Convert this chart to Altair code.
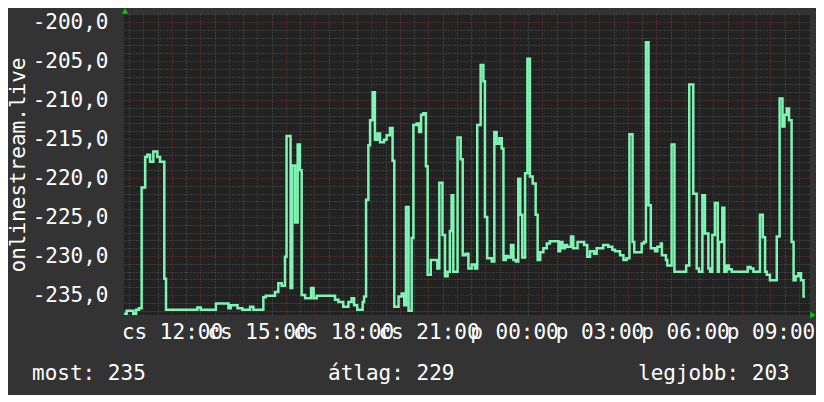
import altair as alt
import numpy as np
import pandas as pd

# ---- data (hours since midnight of day 1, value) ----
hours = [10.32, 10.35, 10.41, 10.64, 10.74, 10.84, 10.935, 11.06, 11.13, 11.23, 11.345,
         11.485, 11.58, 11.73, 11.79, 12.89, 13.01, 13.54, 13.98, 14.06, 14.30,
         14.47, 14.74, 14.855, 15.205, 15.29, 15.615, 15.73, 15.85, 15.965, 16.02,
         16.16, 16.22, 16.32, 16.41, 16.49, 16.55, 16.67, 16.88, 16.97, 17.08,
         17.72, 17.84, 18.01, 18.19, 18.30,
         18.39, 18.50, 18.69, 18.74, 18.81, 18.89, 18.95, 19.04, 19.12, 19.21,
         19.30, 19.44, 19.53, 19.65, 19.74, 19.80, 19.95, 20.06, 20.15, 20.21,
         20.30, 20.41, 20.47, 20.585, 20.67, 20.74, 20.82, 20.91, 20.97, 21.08,
         21.31, 21.38, 21.49, 21.58, 21.67, 21.75, 21.81, 21.87, 22.02, 22.13,
         22.20, 22.30, 22.40,
         22.515, 22.63, 22.71, 22.83, 22.925, 22.98, 23.06, 23.22, 23.31, 23.39,
         23.485, 23.57, 23.63, 23.71, 23.80, 23.895, 23.98, 24.07, 24.15, 24.22,
         24.29, 24.39, 24.47, 24.56, 24.655, 24.76, 24.83, 24.92, 25.03, 25.15,
         25.26, 25.56, 25.615, 25.70, 25.79, 25.86, 26.00, 26.08, 26.23,
         26.46, 26.57, 26.67, 26.81, 26.90, 27.13, 27.31, 27.45, 27.54, 27.72,
         27.84, 27.95, 28.05, 28.16, 28.22, 28.48, 28.56, 28.63, 28.72, 28.80,
         28.95, 29.03, 29.15, 29.19, 29.33, 29.38, 29.53, 29.63, 30.04, 30.15,
         30.29, 30.41,
         30.49, 30.61, 30.70, 30.82, 30.88, 30.96, 31.05, 31.15, 31.19, 31.31,
         31.38, 31.46, 31.54, 31.64, 32.20, 32.30, 32.40, 32.63, 32.73, 32.81,
         32.87, 32.98, 33.22, 33.32, 33.42, 33.49, 33.57, 33.65, 33.74, 33.81,
         33.88, 33.98, 34.07, 34.16, 34.21]

values = [-237.4, -237.4, -237.0, -237.4, -236.9, -236.7, -221.2, -217.3, -217.0, -217.9, -216.6,
          -217.3, -217.9, -232.9, -236.9, -236.6, -236.9, -236.1, -236.7, -236.3, -236.7,
          -236.9, -236.5, -236.9, -235.3, -235.1, -234.6, -233.5, -233.8, -230.1, -214.6,
          -234.1, -218.4, -225.7, -215.7, -219.0, -235.0, -235.4, -234.1, -235.4, -235.1,
          -235.6, -235.9, -236.5, -235.9, -235.4,
          -236.3, -236.9, -235.9, -235.2, -222.8, -215.8, -212.6, -209.0, -215.1, -214.3,
          -215.4, -215.1, -214.5, -213.6, -217.8, -236.5, -235.2, -234.8, -236.3, -223.7,
          -237.0, -227.7, -213.2, -213.0, -214.1, -211.9, -211.7, -218.5, -232.4, -230.5,
          -231.6, -220.6, -227.3, -232.6, -232.0, -226.8, -222.2, -232.0, -214.8, -217.6,
          -229.9, -229.7, -231.6,
          -231.1, -231.6, -213.2, -205.5, -207.6, -225.0, -230.3, -230.7, -214.1, -215.6,
          -214.9, -216.2, -230.5, -230.0, -230.2, -228.6, -230.5, -230.7, -220.1, -224.7,
          -230.2, -219.4, -204.7, -219.8, -220.7, -224.7, -230.5, -229.5, -229.0, -228.4,
          -228.1, -229.4, -228.2, -229.0, -228.6, -228.8, -227.5, -229.0, -228.2,
          -228.6, -230.1, -229.4, -229.7, -229.0, -228.6, -228.8, -229.2, -229.4, -229.9,
          -230.5, -230.3, -214.4, -228.2, -229.5, -228.4, -228.2, -202.6, -223.5, -229.0,
          -229.4, -228.8, -228.4, -229.9, -230.5, -231.2, -215.7, -232.0, -231.2, -208.0,
          -222.0, -231.6,
          -232.0, -222.2, -227.1, -231.6, -232.0, -227.3, -223.2, -232.0, -228.2, -223.8,
          -232.0, -231.2, -231.7, -232.0, -231.4, -231.6, -232.0, -224.7, -227.6, -232.0,
          -232.4, -233.1, -227.5, -209.8, -213.4, -211.9, -211.1, -212.6, -228.2, -233.1,
          -232.6, -232.2, -233.1, -235.2, -235.2]

y_label_values = [-235, -230, -225, -220, -215, -210, -205, -200]
x_label_hours = [12, 15, 18, 21, 24, 27, 30, 33]
day_names = ["cs", "p"]
legend_labels = ["most: 235", "átlag: 229", "legjobb: 203"]
y_title = "onlinestream.live"

df = pd.DataFrame({"h": hours, "v": values})

X_DOMAIN = [10.316, 34.386]
Y_DOMAIN = [-237.56, -198.97]
FONT = "DejaVu Sans Mono"
FS = 21
MINOR = "#595959"
MAJOR = "#7a3232"
LINE = "#80f4b4"

xs = alt.Scale(domain=X_DOMAIN, nice=False, zero=False)
ys = alt.Scale(domain=Y_DOMAIN, nice=False, zero=False)

minor_x = [float(h) for h in np.arange(10.5, 34.5, 1.0)]
major_x = [float(h) for h in range(11, 35)]
minor_y = [float(v) for v in range(-237, -198) if v % 5 != 0]
major_y = [float(v) for v in range(-235, -199, 5)]


def grid_layer(xvals, yvals, color):
    return alt.Chart(df).mark_line(strokeOpacity=0).encode(
        x=alt.X("h:Q", scale=xs, axis=alt.Axis(
            values=xvals, grid=True, gridColor=color, gridDash=[1, 2], gridWidth=1,
            labels=False, ticks=False, domain=False, title=None, orient="bottom")),
        y=alt.Y("v:Q", scale=ys, axis=alt.Axis(
            values=yvals, grid=True, gridColor=color, gridDash=[1, 2], gridWidth=1,
            labels=False, ticks=False, domain=False, title=None, orient="left")),
    )


x_label_expr = (
    f"(datum.value < 24 ? '{day_names[0]}' : '{day_names[1]}') + ' ' + "
    "(datum.value % 24 < 10 ? '0' : '') + (datum.value % 24) + ':00'"
)
y_label_expr = "'-' + replace(format(abs(datum.value), '.1f'), '.', ',')"

label_layer = alt.Chart(df).mark_line(strokeOpacity=0).encode(
    x=alt.X("h:Q", scale=xs, axis=alt.Axis(
        values=x_label_hours, labelExpr=x_label_expr, grid=False, ticks=False, domain=False,
        labelFont=FONT, labelFontSize=FS, labelColor="#ffffff", labelPadding=6,
        labelOverlap=False, labelFlush=False, title=None, orient="bottom")),
    y=alt.Y("v:Q", scale=ys, axis=alt.Axis(
        values=y_label_values, labelExpr=y_label_expr, grid=False, ticks=False, domain=False,
        labelFont=FONT, labelFontSize=FS, labelColor="#ffffff", labelPadding=16,
        labelOverlap=False, labelFlush=False,
        title=y_title, titleFont=FONT, titleFontSize=FS, titleFontWeight="normal",
        titleColor="#ffffff", titlePadding=4, orient="left")),
)

data_line = alt.Chart(df).mark_line(
    color=LINE, strokeWidth=2.5, interpolate="step-after"
).encode(
    x=alt.X("h:Q", scale=xs, axis=None),
    y=alt.Y("v:Q", scale=ys, axis=None),
)

legend_x = [-92, 204, 514]
legend_layers = []
for lbl, px in zip(legend_labels, legend_x):
    legend_layers.append(
        alt.Chart(pd.DataFrame({"t": [lbl]})).mark_text(
            font=FONT, fontSize=FS, color="#ffffff", align="left", baseline="alphabetic"
        ).encode(x=alt.value(px), y=alt.value(366), text="t:N")
    )

arrow_up = alt.Chart(pd.DataFrame({"a": [0]})).mark_point(
    shape="triangle-up", filled=True, color="#00cc00", size=40, opacity=1
).encode(x=alt.value(1), y=alt.value(-3))
arrow_right = alt.Chart(pd.DataFrame({"a": [0]})).mark_point(
    shape="triangle-right", filled=True, color="#00cc00", size=40, opacity=1
).encode(x=alt.value(689), y=alt.value(301))

chart = alt.layer(
    grid_layer(minor_x, minor_y, MINOR),
    grid_layer(major_x, major_y, MAJOR),
    label_layer,
    data_line,
    *legend_layers,
    arrow_up,
    arrow_right,
).resolve_axis(
    x="independent", y="independent"
).properties(
    width=686,
    height=301,
    background="#333333",
    padding={"left": 116, "top": 6, "right": 6, "bottom": 80},
    autosize=alt.AutoSizeParams(type="none"),
).configure_view(
    fill="#222222", strokeWidth=0
)

chart.save("out.html", embed_options={"renderer": "svg", "actions": False})
